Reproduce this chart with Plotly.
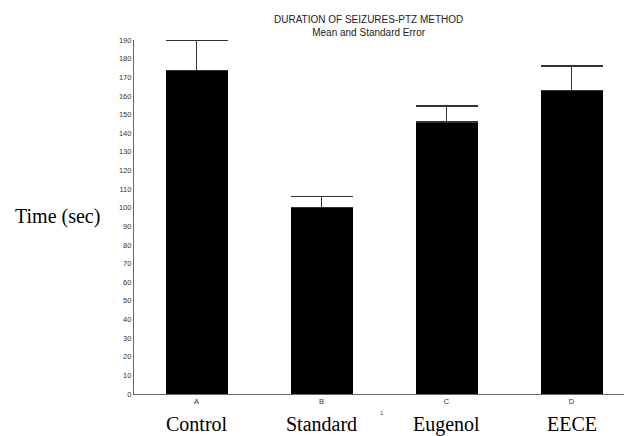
import plotly.graph_objects as go

# Duration of seizures (PTZ method): group means and standard errors
letters = ["A", "B", "C", "D"]
groups = ["Control", "Standard", "Eugenol", "EECE"]
means = [173.5, 100, 146, 163]
sem = [16.5, 6, 8.5, 13]
y_ticks = list(range(0, 191, 10))

fig = go.Figure()
fig.add_trace(go.Bar(
    x=list(range(len(letters))),
    y=means,
    width=0.496,
    marker=dict(color="black", line=dict(width=0)),
    error_y=dict(type="data", array=sem, symmetric=False, arrayminus=[0] * 4,
                 color="#333333", thickness=1.3, width=31),
    showlegend=False,
))

fig.update_layout(
    width=624, height=436,
    margin=dict(l=134, r=0, t=40, b=42),
    paper_bgcolor="white", plot_bgcolor="white",
    bargap=0,
    xaxis=dict(
        range=[-0.5, 3.42],
        tickmode="array", tickvals=list(range(len(letters))), ticktext=letters,
        tickfont=dict(family="Liberation Sans", size=7.5, color="#333333"),
        showline=True, linecolor="#666666", linewidth=1.2,
        showgrid=False, zeroline=False, ticks="", ticklen=0,
    ),
    yaxis=dict(
        range=[0, 190],
        tickmode="array", tickvals=y_ticks,
        tickfont=dict(family="Liberation Sans", size=7.5, color="#333333"),
        showline=True, linecolor="#666666", linewidth=1.2,
        showgrid=False, zeroline=False, ticks="", ticklen=0,
    ),
)

# paper-fraction helpers for the 490 x 354 px plot area starting at (134, 40)
def px_x(px):
    return (px - 134) / 490


def px_y(py):
    return (394 - py) / 354


annotations = [
    dict(text="DURATION OF SEIZURES-PTZ METHOD<br>Mean and Standard Error",
         x=px_x(368), y=px_y(26), xref="paper", yref="paper",
         xanchor="center", yanchor="middle", showarrow=False,
         font=dict(family="Liberation Sans", size=10, color="#222222")),
    dict(text="Time (sec)", x=px_x(57), y=px_y(216), xref="paper", yref="paper",
         xanchor="center", yanchor="middle", showarrow=False,
         font=dict(family="Liberation Serif", size=20, color="black")),
    dict(text="1", x=px_x(382), y=px_y(413), xref="paper", yref="paper",
         xanchor="center", yanchor="middle", showarrow=False,
         font=dict(family="Liberation Sans", size=6, color="#444444")),
]
for i, g in enumerate(groups):
    annotations.append(dict(
        text=g, x=i, xref="x", y=px_y(424), yref="paper",
        xanchor="center", yanchor="middle", showarrow=False,
        font=dict(family="Liberation Serif", size=20, color="black"),
    ))
fig.update_layout(annotations=annotations)

fig.write_html("out.html")
